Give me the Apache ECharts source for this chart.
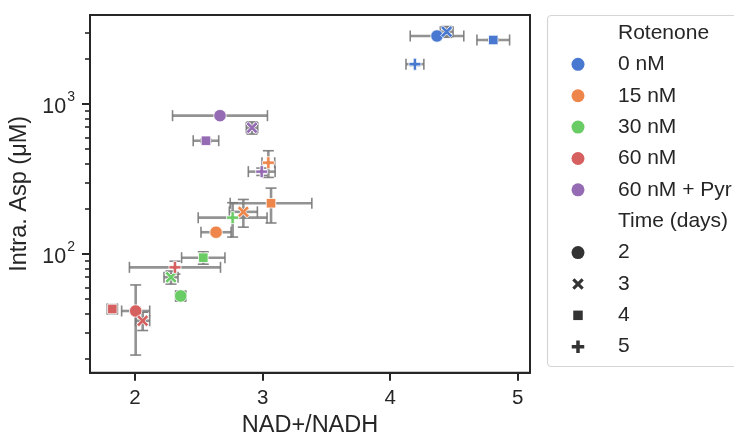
<!DOCTYPE html>
<html>
<head>
<meta charset="utf-8">
<script src="https://cdn.jsdelivr.net/npm/echarts@6/dist/echarts.min.js"></script>
<style>html,body{margin:0;padding:0;background:#fff;}#c{width:734px;height:433px;}</style>
</head>
<body>
<div id="c"></div>
<script>
// ---- data ----
const groups = ['0 nM', '15 nM', '30 nM', '60 nM', '60 nM + Pyr'];
const times = [2, 3, 4, 5];
// values indexed by time [2,3,4,5]
const nadRatio0 = [4.367, 4.443, 4.808, 4.194];
const asp0      = [2840, 3034, 2671, 1842];
const nadErr0   = [0.21, 0.05, 0.128, 0.07];
const aspErr0   = [40, 250, 50, 40];

const nadRatio15 = [2.635, 2.849, 3.066, 3.045];
const asp15      = [139.7, 191, 218, 406];
const nadErr15   = [0.118, 0.11, 0.32, 0.05];
const aspErr15   = [4, 40, 57, 82];

const nadRatio30 = [2.358, 2.282, 2.535, 2.765];
const asp30      = [52.5, 70, 94.5, 174.7];
const nadErr30   = [0.04, 0.055, 0.17, 0.27];
const aspErr30   = [4, 7, 9, 45];

const nadRatio60 = [2.005, 2.06, 1.822, 2.313];
const asp60      = [41.7, 35.9, 43, 81.5];
const nadErr60   = [0.11, 0.055, 0.04, 0.357];
const aspErr60   = [20.5, 5, 3, 8];

const nadRatioPyr = [2.666, 2.917, 2.556, 2.993];
const aspPyr      = [836, 695, 569, 354];
const nadErrPyr   = [0.372, 0.045, 0.1, 0.105];
const aspErrPyr   = [10, 65, 15, 20];

const xTicks = [2, 3, 4, 5];
const yMajorTicks = [100, 1000];
const yMinorTicks = [20, 30, 40, 50, 60, 70, 80, 90, 200, 300, 400, 500, 600, 700, 800, 900, 2000, 3000];
const xRange = [1.647, 5.096];
const yRange = [16.17, 3920];

// ---- styling ----
const colors = ['#4878d0', '#ee854a', '#6acc64', '#d65f5f', '#956cb4'];
const textColor = '#262626';
const plusPts = [[3.6,0],[6.4,0],[6.4,3.6],[10,3.6],[10,6.4],[6.4,6.4],[6.4,10],[3.6,10],[3.6,6.4],[0,6.4],[0,3.6],[3.6,3.6]];
const xPts = [[0,1.9],[1.9,0],[5,3.1],[8.1,0],[10,1.9],[6.9,5],[10,8.1],[8.1,10],[5,6.9],[1.9,10],[0,8.1],[3.1,5]];
function toPath(pts) { return 'path://' + pts.map((p, i) => (i ? 'L' : 'M') + p[0] + ',' + p[1]).join(' ') + ' Z'; }
function toPoly(pts, cx, cy, size) { return pts.map(p => [cx + (p[0] - 5) * size / 10, cy + (p[1] - 5) * size / 10]); }
const symbols = ['circle', toPath(xPts), 'rect', toPath(plusPts)];
const symSizes = [12.5, 12, 9.5, 12];

const allX = [nadRatio0, nadRatio15, nadRatio30, nadRatio60, nadRatioPyr];
const allY = [asp0, asp15, asp30, asp60, aspPyr];
const allXE = [nadErr0, nadErr15, nadErr30, nadErr60, nadErrPyr];
const allYE = [aspErr0, aspErr15, aspErr30, aspErr60, aspErrPyr];

const L = Math.log10;

// error bar data
const errData = [];
groups.forEach((g, gi) => {
  times.forEach((t, ti) => {
    const x = allX[gi][ti], y = allY[gi][ti], xe = allXE[gi][ti], ye = allYE[gi][ti];
    errData.push([x, L(y), x - xe, x + xe, L(y - ye), L(y + ye)]);
  });
});

const series = [];
series.push({
  type: 'custom',
  z: 1,
  silent: true,
  data: errData,
  encode: { x: [0, 2, 3], y: [1, 4, 5] },
  renderItem: function (params, api) {
    const x = api.value(0), y = api.value(1);
    const l = api.coord([api.value(2), y]);
    const r = api.coord([api.value(3), y]);
    const b = api.coord([x, api.value(4)]);
    const t = api.coord([x, api.value(5)]);
    const cap = 5.5;
    const bar = { stroke: 'rgba(128,128,128,0.85)', lineWidth: 2.6 };
    const capS = { stroke: 'rgba(120,120,120,0.9)', lineWidth: 1.6 };
    return {
      type: 'group',
      children: [
        { type: 'line', shape: { x1: l[0], y1: l[1], x2: r[0], y2: r[1] }, style: bar },
        { type: 'line', shape: { x1: l[0], y1: l[1] - cap, x2: l[0], y2: l[1] + cap }, style: capS },
        { type: 'line', shape: { x1: r[0], y1: r[1] - cap, x2: r[0], y2: r[1] + cap }, style: capS },
        { type: 'line', shape: { x1: b[0], y1: b[1], x2: t[0], y2: t[1] }, style: bar },
        { type: 'line', shape: { x1: b[0] - cap, y1: b[1], x2: b[0] + cap, y2: b[1] }, style: capS },
        { type: 'line', shape: { x1: t[0] - cap, y1: t[1], x2: t[0] + cap, y2: t[1] }, style: capS }
      ]
    };
  }
});

groups.forEach((g, gi) => {
  series.push({
    type: 'scatter',
    name: g,
    z: 3,
    data: times.map((t, ti) => ({
      value: [allX[gi][ti], L(allY[gi][ti])],
      symbol: symbols[ti],
      symbolSize: symSizes[ti]
    })),
    itemStyle: { color: colors[gi], borderColor: '#fff', borderWidth: 0.8, opacity: 1 }
  });
});

// ---- legend (graphic) ----
const font = '"Liberation Sans", Arial, sans-serif';
const legendEls = [];
legendEls.push({ type: 'rect', shape: { x: 547.5, y: 15.5, width: 260, height: 351, r: 4 },
  style: { fill: 'rgba(255,255,255,0.8)', stroke: '#d5d5d5', lineWidth: 1.2 }, z: 10 });
const rowY0 = 33, rowGap = 31.37, mx = 578, tx = 618;
const legendRows = ['Rotenone'].concat(groups).concat(['Time (days)']).concat(times.map(String));
legendRows.forEach((label, i) => {
  const cy = rowY0 + i * rowGap;
  legendEls.push({ type: 'text', x: tx, y: cy, z: 11,
    style: { text: label, fill: textColor, font: '21px ' + font, verticalAlign: 'middle', textAlign: 'left' } });
  const dark = '#333333';
  if (i >= 1 && i <= 5) {
    legendEls.push({ type: 'circle', shape: { cx: mx, cy: cy, r: 6.5 }, style: { fill: colors[i - 1] }, z: 11 });
  } else if (i >= 7) {
    const k = i - 7;
    if (k === 0) legendEls.push({ type: 'circle', shape: { cx: mx, cy: cy, r: 6.5 }, style: { fill: dark }, z: 11 });
    if (k === 1) legendEls.push({ type: 'polygon', shape: { points: toPoly(xPts, mx, cy, 11.5) }, style: { fill: dark }, z: 11 });
    if (k === 2) legendEls.push({ type: 'rect', shape: { x: mx - 4.75, y: cy - 4.75, width: 9.5, height: 9.5 }, style: { fill: dark }, z: 11 });
    if (k === 3) legendEls.push({ type: 'polygon', shape: { points: toPoly(plusPts, mx, cy, 12.5) }, style: { fill: dark }, z: 11 });
  }
});

const option = {
  backgroundColor: '#fff',
  animation: false,
  textStyle: { fontFamily: font, color: textColor },
  grid: { left: 90, right: 204, top: 15, bottom: 60.3, show: true, borderColor: textColor, borderWidth: 2,
          backgroundColor: 'transparent', containLabel: false, outerBoundsMode: 'none' },
  xAxis: {
    type: 'value', min: xRange[0], max: xRange[1],
    axisLine: { show: true, lineStyle: { color: textColor, width: 2 } },
    axisTick: { show: true, customValues: xTicks, length: 8, lineStyle: { color: textColor, width: 2 } },
    axisLabel: { customValues: xTicks, fontSize: 20.5, color: textColor, margin: 15, fontFamily: font },
    splitLine: { show: false },
    name: 'NAD+/NADH', nameLocation: 'middle', nameGap: 38,
    nameTextStyle: { fontSize: 23.5, color: textColor, fontFamily: font }
  },
  yAxis: [{
    type: 'value', min: L(yRange[0]), max: L(yRange[1]),
    axisLine: { show: true, lineStyle: { color: textColor, width: 2 } },
    axisTick: { show: true, customValues: yMajorTicks.map(L), length: 8, lineStyle: { color: textColor, width: 2 } },
    axisLabel: {
      customValues: yMajorTicks.map(L), margin: 15, color: textColor,
      formatter: function (v) { return '{b|10}{s|' + Math.round(v) + '}'; },
      rich: {
        b: { fontSize: 21.5, color: textColor, fontFamily: font, padding: [6, 0, 0, 0] },
        s: { fontSize: 14, color: textColor, fontFamily: font, padding: [0, 0, 14, 1] }
      }
    },
    splitLine: { show: false },
    name: 'Intra. Asp (μM)', nameLocation: 'middle', nameGap: 56,
    nameTextStyle: { fontSize: 23.5, color: textColor, fontFamily: font }
  }, {
    type: 'value', min: L(yRange[0]), max: L(yRange[1]), position: 'left',
    axisLine: { show: false },
    axisTick: { show: true, customValues: yMinorTicks.map(L), length: 5, lineStyle: { color: textColor, width: 1.6 } },
    axisLabel: { show: false },
    splitLine: { show: false }
  }],
  series: series,
  graphic: legendEls
};

const chart = echarts.init(document.getElementById('c'), null, { renderer: 'canvas' });
chart.setOption(option);
</script>
</body>
</html>
